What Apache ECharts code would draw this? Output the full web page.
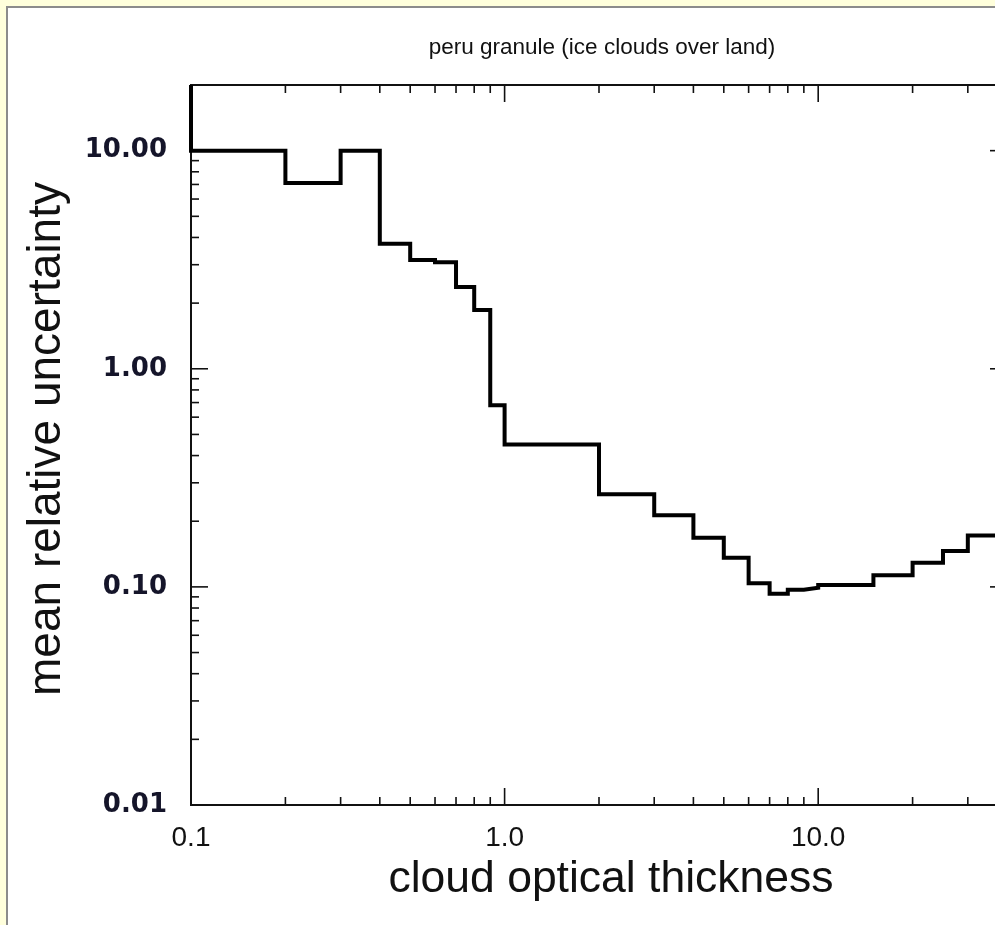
<!DOCTYPE html>
<html>
<head>
<meta charset="utf-8">
<script src="https://cdn.jsdelivr.net/npm/echarts@6/dist/echarts.min.js"></script>
<style>
html,body{margin:0;padding:0;background:#ffffdc;}
#c{width:995px;height:925px;}
</style>
</head>
<body>
<div id="c"></div>
<script>
// ---- data ----
const binEdges = [0.1,0.2,0.3,0.4,0.5,0.6,0.7,0.8,0.9,1,2,3,4,5,6,7,8,9,10,15,20,25,30,40];
const binValues = [10.0,7.1,10.0,3.74,3.15,3.08,2.37,1.86,0.68,0.45,0.266,0.213,0.168,0.136,0.104,0.093,0.097,0.099,0.102,0.113,0.129,0.146,0.172];
const leadValue = 20; // bin below 0.1 runs off the top of the plot

const xRange = [0.1, 40];
const yRange = [0.01, 20];
const xMajorTicks = [0.1, 1, 10];
const xTickLabels = ['0.1', '1.0', '10.0'];
const xMinorTicks = [0.2,0.3,0.4,0.5,0.6,0.7,0.8,0.9,2,3,4,5,6,7,8,9,20,30];
const yMajorTicks = [0.01, 0.1, 1, 10];
const yTickLabels = ['0.01', '0.10', '1.00', '10.00'];
const yMinorTicks = [0.02,0.03,0.04,0.05,0.06,0.07,0.08,0.09,0.2,0.3,0.4,0.5,0.6,0.7,0.8,0.9,2,3,4,5,6,7,8,9];

const titleText = 'peru granule (ice clouds over land)';
const xName = 'cloud optical thickness';
const yName = 'mean relative uncertainty';

// ---- build step line from bins ----
const stepData = [[binEdges[0], leadValue]];
for (let i = 0; i < binValues.length; i++) {
  stepData.push([binEdges[i], binValues[i]]);
  stepData.push([binEdges[i + 1], binValues[i]]);
}

// tick items: [x, y, axis(0=x,1=y), major(1/0)]
const tickData = [];
xMajorTicks.forEach(v => tickData.push([v, yRange[0], 0, 1]));
xMinorTicks.forEach(v => tickData.push([v, yRange[0], 0, 0]));
yMajorTicks.forEach(v => tickData.push([xRange[0], v, 1, 1]));
yMinorTicks.forEach(v => tickData.push([xRange[0], v, 1, 0]));

function labelFor(v, majors, labels) {
  for (let i = 0; i < majors.length; i++) {
    if (Math.abs(Math.log10(v) - Math.log10(majors[i])) < 1e-6) return labels[i];
  }
  return '';
}

const chart = echarts.init(document.getElementById('c'), null, {renderer: 'canvas'});
const MAJ = 17, MIN = 8;
chart.setOption({
  animation: false,
  backgroundColor: 'transparent',
  graphic: [{
    type: 'rect', z: -100, silent: true,
    shape: {x: 7, y: 7, width: 1200, height: 1200},
    style: {fill: '#ffffff', stroke: '#8c8c8c', lineWidth: 2}
  }],
  title: {
    text: titleText,
    left: 597, textAlign: 'center', top: 31,
    textStyle: {fontFamily: 'Liberation Sans', fontSize: 22.5, fontWeight: 'normal', color: '#111'}
  },
  grid: {
    left: 191, top: 85, width: 816, height: 720,
    outerBoundsMode: 'none', containLabel: false,
    show: true, borderColor: '#111', borderWidth: 2, backgroundColor: 'transparent'
  },
  xAxis: {
    type: 'log', logBase: 10, min: xRange[0], max: xRange[1],
    name: xName, nameLocation: 'middle', nameGap: 46,
    nameTextStyle: {fontFamily: 'Liberation Sans', fontSize: 44.5, color: '#111', padding: [0, 0, 0, 24]},
    axisLine: {show: false}, axisTick: {show: false}, splitLine: {show: false},
    axisLabel: {
      margin: 19, color: '#111', fontFamily: 'Liberation Sans', fontSize: 28,
      formatter: v => labelFor(v, xMajorTicks, xTickLabels)
    }
  },
  yAxis: {
    type: 'log', logBase: 10, min: yRange[0], max: yRange[1],
    name: yName, nameLocation: 'middle', nameGap: 121, nameRotate: 90,
    nameTextStyle: {fontFamily: 'Liberation Sans', fontSize: 46, color: '#111', padding: [0, 0, 0, 12]},
    axisLine: {show: false}, axisTick: {show: false}, splitLine: {show: false},
    axisLabel: {
      margin: 24, color: '#15152a', fontFamily: 'DejaVu Sans', fontWeight: 'bold', fontSize: 26,
      formatter: v => labelFor(v, yMajorTicks, yTickLabels)
    }
  },
  series: [
    {
      type: 'custom', coordinateSystem: 'cartesian2d', silent: true, clip: false, z: 3,
      encode: {x: 0, y: 1},
      data: tickData,
      renderItem: function (params, api) {
        const axis = api.value(2), major = api.value(3);
        const len = major ? MAJ : MIN;
        const st = {stroke: '#111', lineWidth: 1.6};
        if (axis === 0) {
          const v = api.value(0);
          const b = api.coord([v, yRange[0]]);
          const t = api.coord([v, yRange[1]]);
          return {type: 'group', children: [
            {type: 'line', shape: {x1: b[0], y1: b[1], x2: b[0], y2: b[1] - len}, style: st},
            {type: 'line', shape: {x1: t[0], y1: t[1], x2: t[0], y2: t[1] + len}, style: st}
          ]};
        } else {
          const v = api.value(1);
          const l = api.coord([xRange[0], v]);
          const r = api.coord([xRange[1], v]);
          return {type: 'group', children: [
            {type: 'line', shape: {x1: l[0], y1: l[1], x2: l[0] + len, y2: l[1]}, style: st},
            {type: 'line', shape: {x1: r[0], y1: r[1], x2: r[0] - len, y2: r[1]}, style: st}
          ]};
        }
      }
    },
    {
      type: 'line', data: stepData, showSymbol: false, symbol: 'none', z: 5,
      lineStyle: {color: '#000', width: 4, join: 'miter', cap: 'butt'},
      clip: true
    }
  ]
});
</script>
</body>
</html>
